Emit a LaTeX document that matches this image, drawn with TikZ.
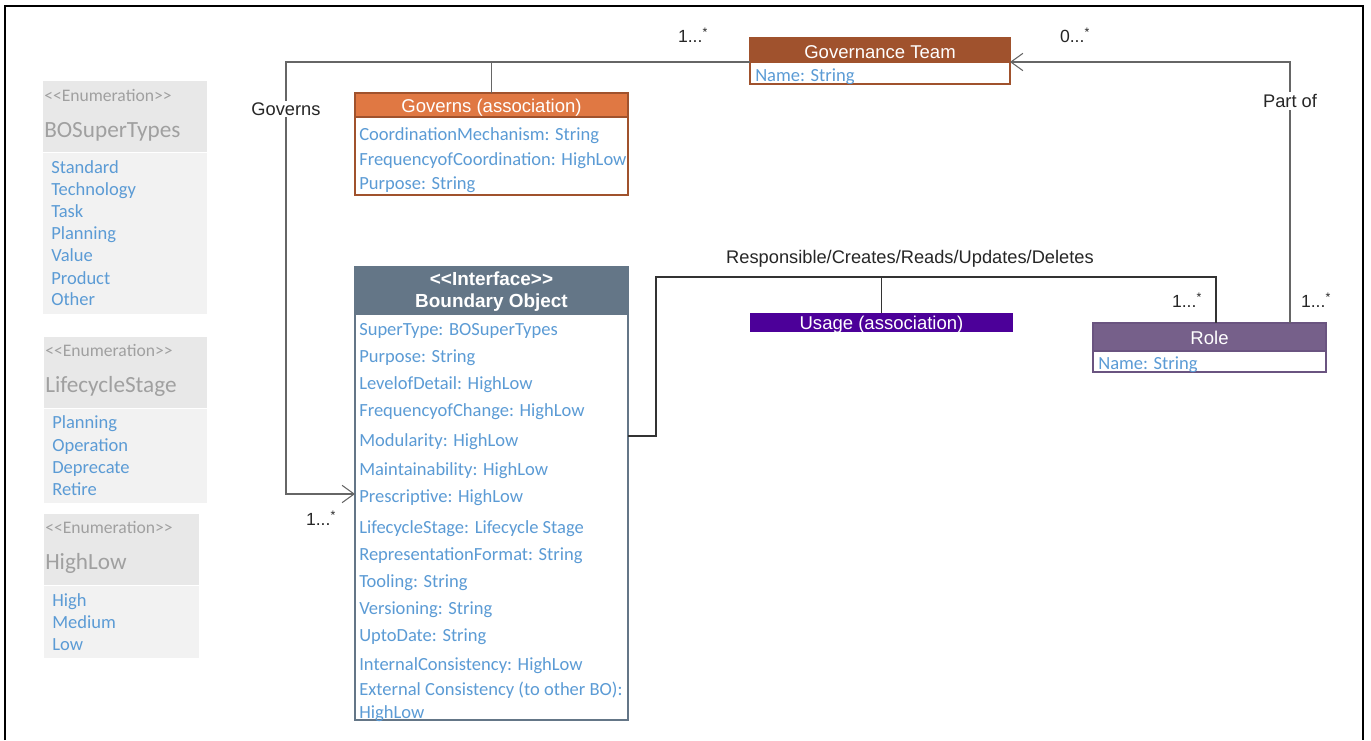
\documentclass[tikz,border=0pt]{standalone}
\usepackage{fontspec}
\setmainfont{Carlito}
\newfontfamily\arialf{Liberation Sans}
\usetikzlibrary{fit,arrows.meta}
\definecolor{attr}{HTML}{5B9BD5}
\definecolor{enumhead}{HTML}{E8E8E8}
\definecolor{enumbody}{HTML}{F2F2F2}
\definecolor{enumtxt}{HTML}{A0A0A0}
\definecolor{govhead}{HTML}{E07843}
\definecolor{govline}{HTML}{A0522D}
\definecolor{gthead}{HTML}{A0522D}
\definecolor{bohead}{HTML}{647687}
\definecolor{boline}{HTML}{647687}
\definecolor{usagec}{HTML}{4C0099}
\definecolor{rolehead}{HTML}{76608A}
\definecolor{roleline}{HTML}{6A5480}
\definecolor{conn}{HTML}{666666}
\tikzset{
  boxfit/.style={inner sep=0pt, outer sep=0pt},
  headtxt/.style={inner sep=0pt, text=white, font=\arialf\fontsize{13.9}{16}\selectfont},
  attrtext/.style={anchor=base west, inner sep=0pt, text=attr, font=\fontsize{13.9}{16}\selectfont},
  enumstereo/.style={anchor=base west, inner sep=0pt, text=enumtxt, font=\fontsize{13.2}{15}\selectfont},
  enumtitle/.style={anchor=base west, inner sep=0pt, text=enumtxt, font=\fontsize{17.4}{19}\selectfont},
  lbl/.style={inner sep=1.5pt, font=\arialf\fontsize{13.7}{16}\selectfont, text=black!85},
  mult/.style={inner sep=0pt, font=\arialf\fontsize{13.2}{16}\selectfont, text=black!85},
  connector/.style={draw=conn, line width=1pt},
  opentip/.style={-{Straight Barb[length=9pt,width=13pt,line width=0.8pt]}}
}
\newcommand{\mlt}{1...\textsuperscript{*}}
\newcommand{\enumst}{{<}{<}Enumeration{>}{>}}
\begin{document}
\begin{tikzpicture}[x=0.75pt,y=-0.75pt]
\useasboundingbox (0,0) rectangle (1371,740);
% outer frame
\draw[line width=1.1pt] (5,740) -- (5,6) -- (1363,6) -- (1363,740);

% ---------- Enumerations ----------
\node[boxfit, fill=enumhead, fit={(43,81) (207,151.5)}] (bsth) {};
\node[boxfit, fill=enumbody, fit={(43,153) (207,314)}] (bstb) {};
\node[enumstereo] (bsts) at (44,101) {\enumst};
\node[enumtitle] (bstt) at (44,137) {BOSuperTypes};
\node[attrtext] (bst1) at (51,173) {Standard};
\node[attrtext] (bst2) at (51,195) {Technology};
\node[attrtext] (bst3) at (51,217) {Task};
\node[attrtext] (bst4) at (51,239) {Planning};
\node[attrtext] (bst5) at (51,261) {Value};
\node[attrtext] (bst6) at (51,284) {Product};
\node[attrtext] (bst7) at (51,305) {Other};

\node[boxfit, fill=enumhead, fit={(44,337) (207,407.5)}] (lsh) {};
\node[boxfit, fill=enumbody, fit={(44,409) (207,503)}] (lsb) {};
\node[enumstereo] (lss) at (45,356) {\enumst};
\node[enumtitle] (lst) at (45,392) {LifecycleStage};
\node[attrtext] (ls1) at (52,428) {Planning};
\node[attrtext] (ls2) at (52,451) {Operation};
\node[attrtext] (ls3) at (52,473) {Deprecate};
\node[attrtext] (ls4) at (52,495) {Retire};

\node[boxfit, fill=enumhead, fit={(44,514) (199,584.5)}] (hlh) {};
\node[boxfit, fill=enumbody, fit={(44,586) (199,658)}] (hlb) {};
\node[enumstereo] (hls) at (45,533) {\enumst};
\node[enumtitle] (hlt) at (45,569) {HighLow};
\node[attrtext] (hl1) at (52,606) {High};
\node[attrtext] (hl2) at (52,628) {Medium};
\node[attrtext] (hl3) at (52,650) {Low};

% ---------- Governs (association) ----------
\node[boxfit, draw=govline, line width=0.8pt, fill=white, fit={(355,93) (628,195)}] (gab) {};
\node[boxfit, draw=govline, line width=0.8pt, fill=govhead, fit={(355,93) (628,117)}] (gah) {};
\node[headtxt] (gaht) at ([yshift=-2pt]gah.center) {Governs (association)};
\node[attrtext] (ga1) at (359,140) {CoordinationMechanism: String};
\node[attrtext] (ga2) at (359,165) {FrequencyofCoordination: HighLow};
\node[attrtext] (ga3) at (359,189) {Purpose: String};

% ---------- Governance Team ----------
\node[boxfit, draw=govline, line width=0.8pt, fill=white, fit={(750,38) (1010,84)}] (gtb) {};
\node[boxfit, draw=govline, line width=0.8pt, fill=gthead, fit={(750,38) (1010,62)}] (gth) {};
\node[headtxt] (gtht) at ([yshift=-1.5pt]gth.center) {Governance Team};
\node[attrtext] (gt1) at (755,81) {Name: String};

% ---------- Boundary Object ----------
\node[boxfit, draw=boline, line width=0.8pt, fill=white, fit={(355,267) (628,720)}] (bo) {};
\node[boxfit, draw=boline, line width=0.8pt, fill=bohead, fit={(355,267) (628,314)}] (boh) {};
\node[headtxt, align=center, font=\arialf\bfseries\fontsize{14.2}{16.5}\selectfont] (boht) at ([yshift=-1pt]boh.center) {{<}{<}Interface{>}{>}\\Boundary Object};
\node[attrtext] (bo1) at (359,335) {SuperType: BOSuperTypes};
\node[attrtext] (bo2) at (359,362) {Purpose: String};
\node[attrtext] (bo3) at (359,389) {LevelofDetail: HighLow};
\node[attrtext] (bo4) at (359,416) {FrequencyofChange: HighLow};
\node[attrtext] (bo5) at (359,446) {Modularity: HighLow};
\node[attrtext] (bo6) at (359,475) {Maintainability: HighLow};
\node[attrtext] (bo7) at (359,502) {Prescriptive: HighLow};
\node[attrtext] (bo8) at (359,533) {LifecycleStage: Lifecycle Stage};
\node[attrtext] (bo9) at (359,560) {RepresentationFormat: String};
\node[attrtext] (bo10) at (359,587) {Tooling: String};
\node[attrtext] (bo11) at (359,614) {Versioning: String};
\node[attrtext] (bo12) at (359,641) {UptoDate: String};
\node[attrtext] (bo13) at (359,670) {InternalConsistency: HighLow};
\node[attrtext] (bo14) at (359,695) {External Consistency (to other BO):};
\node[attrtext] (bo15) at (359,718) {HighLow};

% ---------- Usage (association) ----------
\node[boxfit, fill=usagec, fit={(750,313) (1013,332)}] (usage) {};
\node[headtxt] (usaget) at ([yshift=-2pt]usage.center) {Usage (association)};

% ---------- Role ----------
\node[boxfit, draw=roleline, line width=0.8pt, fill=white, fit={(1093,323) (1326,372)}] (roleb) {};
\node[boxfit, draw=roleline, line width=0.8pt, fill=rolehead, fit={(1093,323) (1326,351)}] (roleh) {};
\node[headtxt] (roleht) at ([yshift=-1pt]roleh.center) {Role};
\node[attrtext] (role1) at (1098,369) {Name: String};

% ---------- connectors ----------
\coordinate (gvx) at (286,494);
\coordinate (pox) at (1290,61);
\coordinate (ux1) at (656,436);
\coordinate (ux2) at (1216,277);

% Governs
\draw[connector, opentip] (gth.south west) -| (gvx) -- (gvx -| bo.west);
\draw[connector] (gah.north) -- (gah.north |- gth.south west);
\node[lbl, fill=white] (govlbl) at (286,109) {Governs};
\node[mult] (m1) at (693,35) {\mlt};
\node[mult] (m2) at (321,518) {\mlt};

% Part of
\draw[connector, opentip] (roleh.north -| pox) -- (pox |- gth.south east) -- (gth.south east);
\node[lbl, fill=white] (partlbl) at (1290,101) {Part of};
\node[mult] (m3) at (1075,35) {0...\textsuperscript{*}};
\node[mult] (m4) at (1316,300) {\mlt};

% Usage
\draw[line width=1pt, draw=black!80] (ux1 -| bo.east) -- (ux1) |- (ux2) -- (ux2 |- roleh.north);
\draw[line width=1pt, draw=black!80] (usage.north) -- (usage.north |- ux2);
\node[lbl] (uselbl) at (910,259) {Responsible/Creates/Reads/Updates/Deletes};
\node[mult] (m5) at (1187,300) {\mlt};
\end{tikzpicture}
\end{document}
